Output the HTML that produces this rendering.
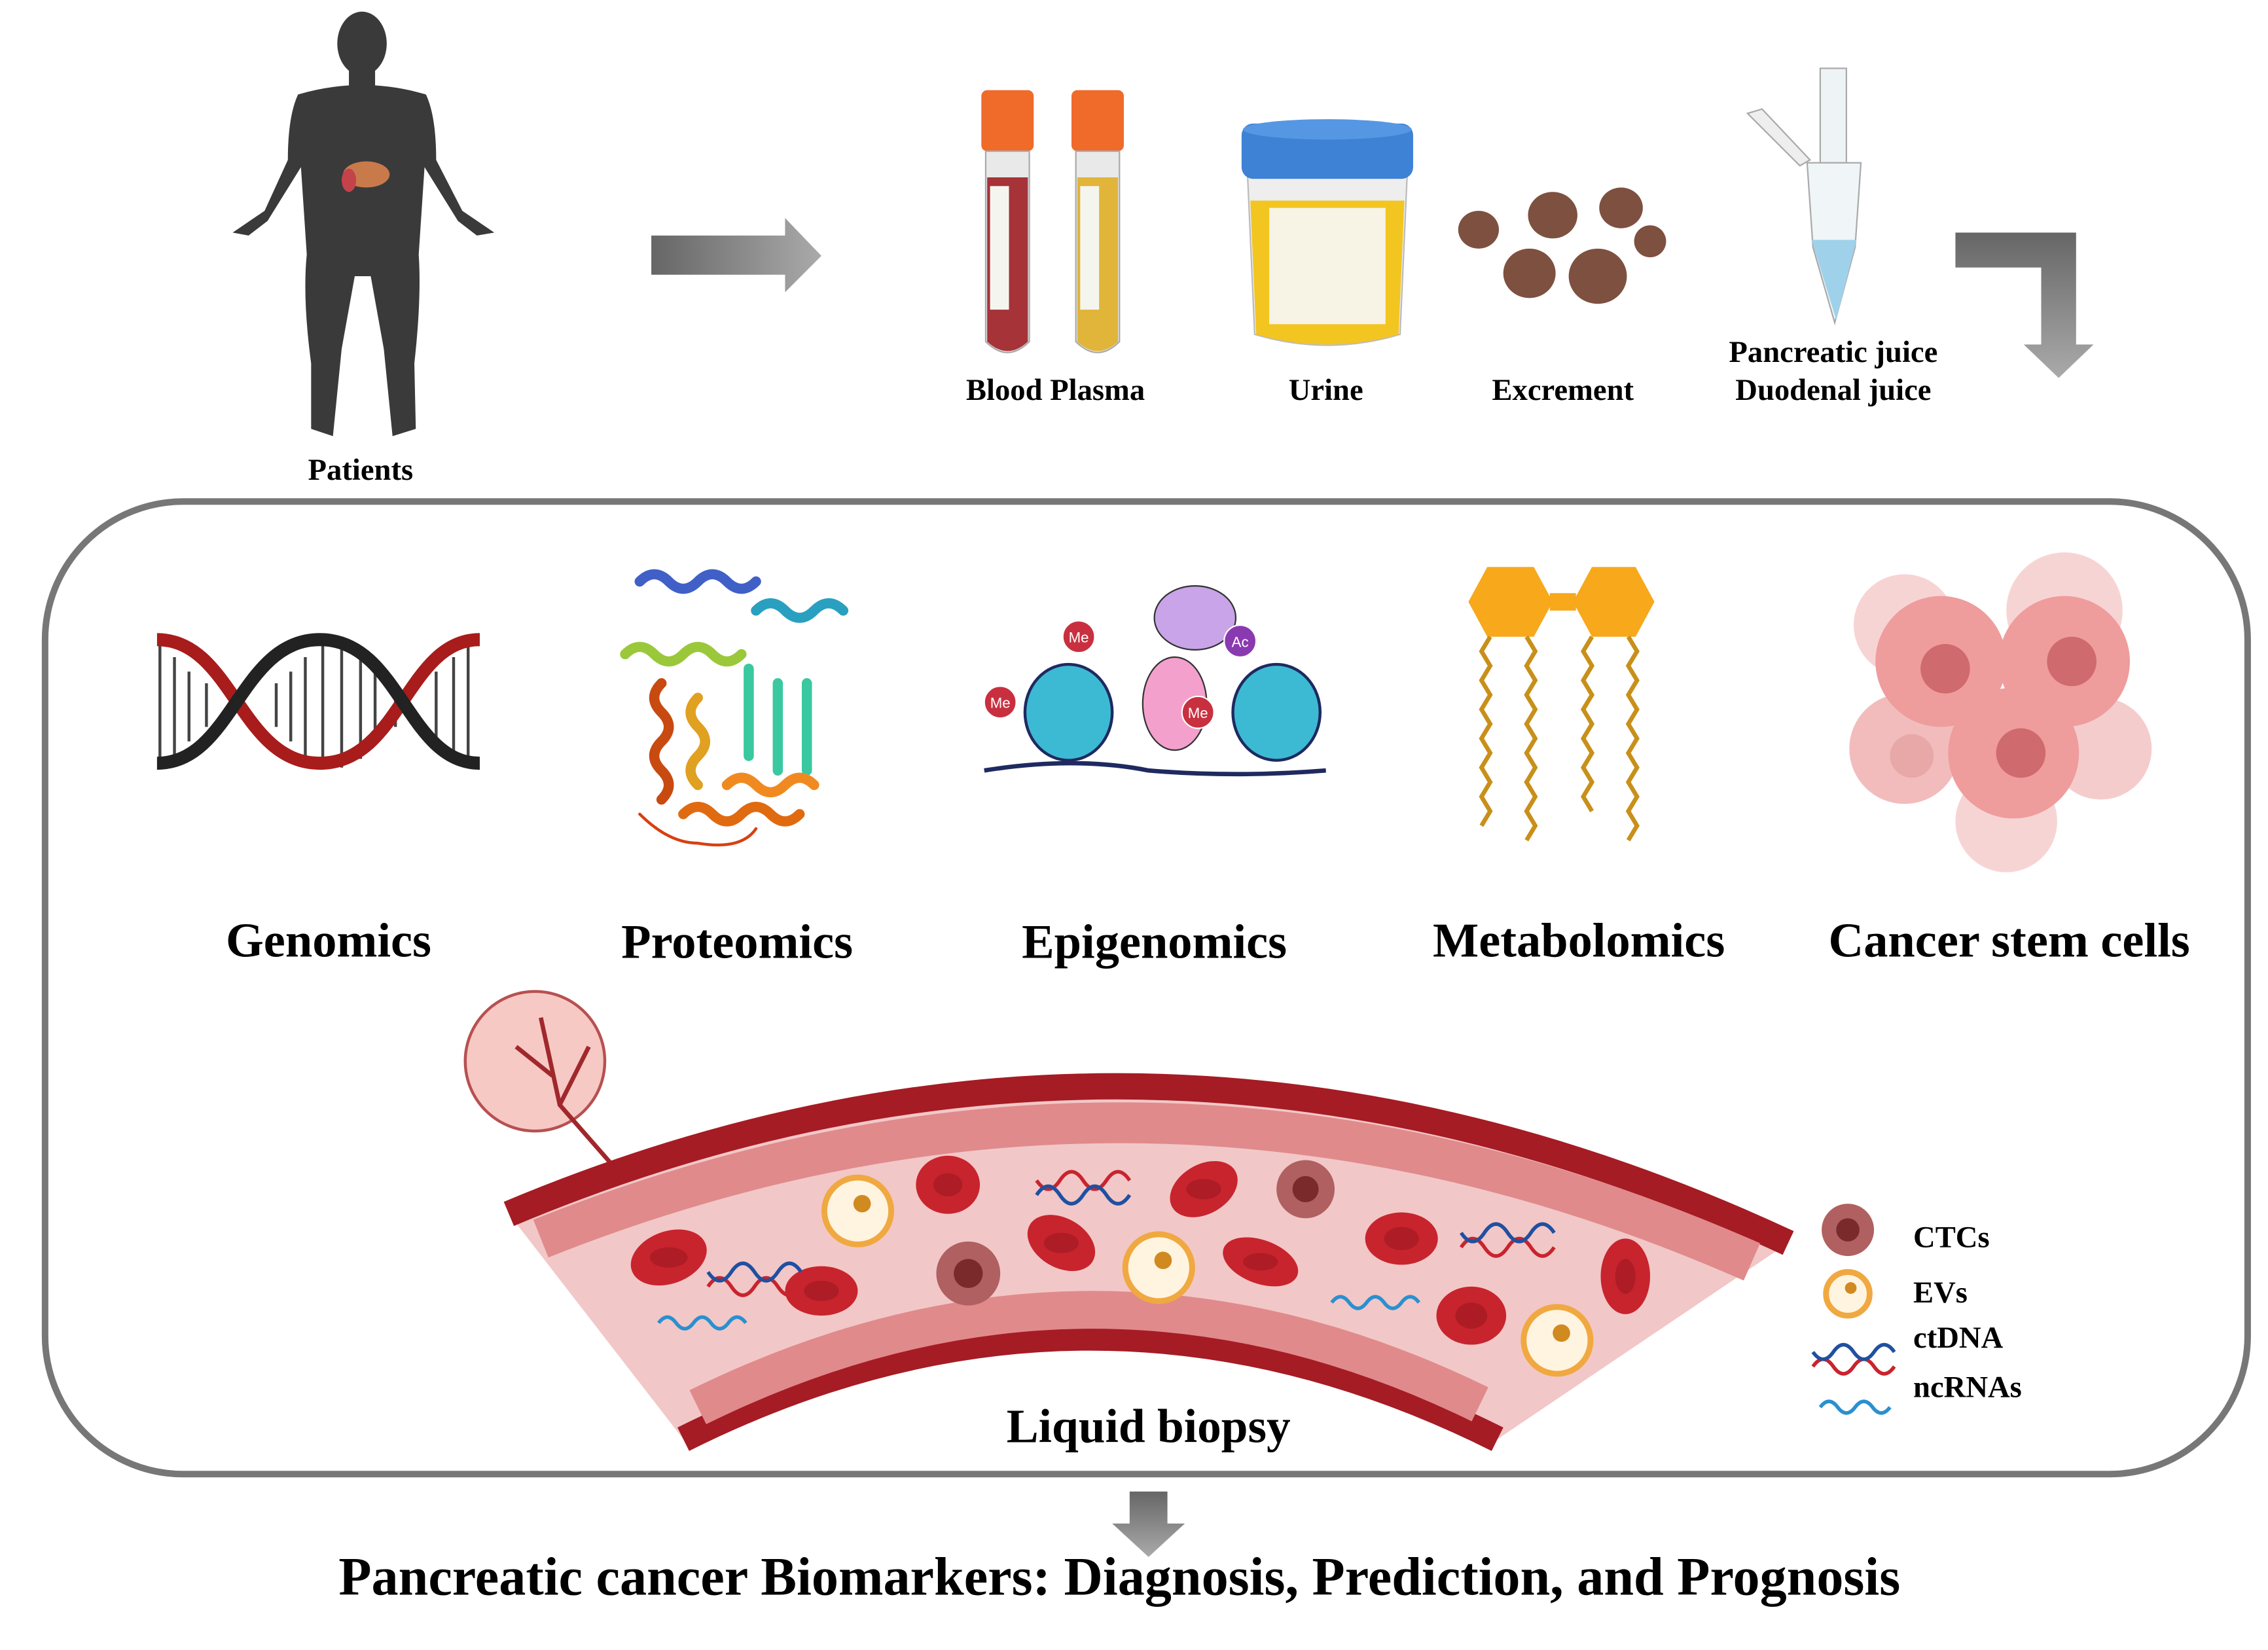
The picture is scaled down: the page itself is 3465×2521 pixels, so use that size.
<!DOCTYPE html>
<html><head><meta charset="utf-8"><style>
html,body{margin:0;padding:0;background:#fff;}
svg{display:block;}
text{font-family:"Liberation Serif",serif;font-weight:bold;fill:#000;}
</style></head><body>
<svg width="3465" height="2521" viewBox="0 0 1560 1135" preserveAspectRatio="none" xmlns="http://www.w3.org/2000/svg">
<defs>
<linearGradient id="ga" x1="0" x2="1"><stop offset="0" stop-color="#666"/><stop offset="1" stop-color="#aaa"/></linearGradient>
<linearGradient id="gb" x1="0" x2="0" y1="0" y2="1"><stop offset="0" stop-color="#666"/><stop offset="1" stop-color="#aaa"/></linearGradient>
</defs>
<!-- human -->
<g fill="#3a3a3a">
<ellipse cx="249" cy="30" rx="17" ry="22"/>
<rect x="240" y="45" width="18" height="15"/>
<path d="M205,65 Q249,52 293,65 Q300,80 300,110 L318,145 L340,160 L328,162 L315,152 L292,115 L288,175 Q290,205 285,250 L286,295 L270,300 L264,240 L255,190 L244,190 L235,240 L229,300 L214,295 L214,250 Q208,205 211,175 L207,115 L184,152 L171,162 L160,160 L182,145 L198,110 Q198,80 205,65Z"/>
</g>
<ellipse cx="252" cy="120" rx="16" ry="9" fill="#c97a4a"/>
<ellipse cx="240" cy="124" rx="5" ry="8" fill="#c4424a"/>
<text x="248" y="330" font-size="21" text-anchor="middle">Patients</text>
<!-- arrow 1 -->
<path d="M448,162 L540,162 L540,150 L565,176 L540,201 L540,189 L448,189Z" fill="url(#ga)"/>
<!-- tubes -->
<rect x="675" y="62" width="36" height="42" rx="4" fill="#f06a2a"/>
<rect x="737" y="62" width="36" height="42" rx="4" fill="#f06a2a"/>
<path d="M678,104 L708,104 L708,235 Q693,250 678,235Z" fill="#e9e9e9" stroke="#aaa"/>
<path d="M740,104 L770,104 L770,235 Q755,250 740,235Z" fill="#e9e9e9" stroke="#aaa"/>
<path d="M679,122 L707,122 L707,235 Q693,248 679,235Z" fill="#a53338"/>
<path d="M741,122 L769,122 L769,235 Q755,248 741,235Z" fill="#e1b43a"/>
<rect x="681" y="128" width="13" height="85" fill="#f5f5f0"/>
<rect x="743" y="128" width="13" height="85" fill="#f5f5f0"/>
<!-- urine -->
<path d="M858,118 L968,118 L963,230 Q913,245 863,230Z" fill="#eee" stroke="#bbb"/>
<path d="M860,138 L966,138 L962,230 Q913,244 864,230Z" fill="#f3c520"/>
<rect x="873" y="143" width="80" height="80" fill="#f7f4e6"/>
<rect x="854" y="85" width="118" height="38" rx="8" fill="#3d82d4"/>
<ellipse cx="913" cy="89" rx="58" ry="7" fill="#5597e3"/>
<!-- excrement -->
<g fill="#7e5040">
<ellipse cx="1017" cy="158" rx="14" ry="13"/><ellipse cx="1068" cy="148" rx="17" ry="16"/>
<ellipse cx="1115" cy="143" rx="15" ry="14"/><ellipse cx="1135" cy="166" rx="11" ry="11"/>
<ellipse cx="1052" cy="188" rx="18" ry="17"/><ellipse cx="1099" cy="190" rx="20" ry="19"/>
</g>
<!-- pancreatic tube -->
<rect x="1252" y="47" width="18" height="65" fill="#eef3f5" stroke="#aaa"/>
<path d="M1243,112 L1280,112 L1276,170 L1262,222 L1247,170Z" fill="#f0f5f7" stroke="#aaa"/>
<path d="M1246,165 L1277,165 L1263,220Z" fill="#9fd2ea"/>
<path d="M1202,78 L1212,75 L1245,110 L1238,114Z" fill="#eee" stroke="#aaa"/>
<text x="1261" y="249" font-size="21" text-anchor="middle">Pancreatic juice</text>
<text x="1261" y="275" font-size="21" text-anchor="middle">Duodenal juice</text>
<text x="726" y="275" font-size="21" text-anchor="middle">Blood  Plasma</text>
<text x="912" y="275" font-size="21" text-anchor="middle">Urine</text>
<text x="1075" y="275" font-size="21" text-anchor="middle">Excrement</text>
<!-- bent arrow -->
<path d="M1345,160 L1428,160 L1428,237 L1440,237 L1416,260 L1392,237 L1404,237 L1404,184 L1345,184Z" fill="url(#gb)"/>
<!-- box -->
<rect x="31" y="345" width="1515" height="669" rx="95" fill="none" stroke="#777" stroke-width="4.5"/>
<!-- genomics DNA -->
<g stroke-width="2">
<path d="M110,440 L110,528 M120,452 L120,522 M130,462 L130,510 M142,470 L142,500 M190,470 L190,500 M200,462 L200,510 M210,452 L210,522 M222,442 L222,528 M235,442 L235,528 M248,452 L248,522 M258,462 L258,510 M272,470 L272,500 M300,462 L300,510 M312,452 L312,522 M322,442 L322,528" stroke="#444"/>
</g>
<path d="M108,440 C160,440 165,525 220,525 C275,525 280,440 330,440" fill="none" stroke="#a81c1c" stroke-width="9"/>
<path d="M108,525 C160,525 165,440 220,440 C275,440 280,525 330,525" fill="none" stroke="#222" stroke-width="9"/>
<!-- proteomics -->
<g fill="none" stroke-width="7" stroke-linecap="round">
<path d="M440,400 q10,-10 20,0 q10,10 20,0 q10,-10 20,0 q10,10 20,0" stroke="#4060c8"/>
<path d="M430,450 q10,-10 20,0 q10,10 20,0 q10,-10 20,0 q10,10 20,0" stroke="#9ac83a"/>
<path d="M520,420 q10,-10 20,0 q10,10 20,0 q10,-10 20,0" stroke="#2aa0c0"/>
<path d="M515,460 l0,60 M535,470 l0,60 M555,470 l0,60" stroke="#3ac8a0"/>
<path d="M480,480 q-10,10 0,20 q10,10 0,20 q-10,10 0,20" stroke="#e0a020"/>
<path d="M455,470 q-10,10 0,20 q10,10 0,20 q-10,10 0,20 q10,10 0,20" stroke="#c84a10"/>
<path d="M470,560 q10,-10 20,0 q10,10 20,0 q10,-10 20,0 q10,10 20,0" stroke="#e06a10"/>
<path d="M500,540 q10,-10 20,0 q10,10 20,0 q10,-10 20,0" stroke="#f08a20"/>
<path d="M440,560 q20,20 40,20 q30,5 40,-10" stroke="#d84010" stroke-width="2"/>
</g>
<!-- epigenomics -->
<path d="M677,530 Q740,520 790,530 Q850,535 912,530" fill="none" stroke="#1e2a60" stroke-width="3"/>
<ellipse cx="822" cy="425" rx="28" ry="22" fill="#c9a4e8" stroke="#333"/>
<ellipse cx="808" cy="484" rx="22" ry="32" fill="#f4a0cc" stroke="#333"/>
<g fill="#3dbad3" stroke="#1e2a60" stroke-width="2">
<ellipse cx="735" cy="490" rx="30" ry="33"/><ellipse cx="878" cy="490" rx="30" ry="33"/>
</g>
<g fill="#c83040" stroke="#fff"><circle cx="742" cy="438" r="11"/><circle cx="688" cy="483" r="11"/><circle cx="824" cy="490" r="11"/></g>
<circle cx="853" cy="441" r="11" fill="#8a3ab0" stroke="#fff"/>
<g font-size="10"><text x="742" y="442" text-anchor="middle" style="fill:#fff;font-weight:normal;font-family:'Liberation Sans',sans-serif">Me</text><text x="688" y="487" text-anchor="middle" style="fill:#fff;font-weight:normal;font-family:'Liberation Sans',sans-serif">Me</text><text x="824" y="494" text-anchor="middle" style="fill:#fff;font-weight:normal;font-family:'Liberation Sans',sans-serif">Me</text><text x="853" y="445" text-anchor="middle" style="fill:#fff;font-weight:normal;font-family:'Liberation Sans',sans-serif">Ac</text></g>
<!-- metabolomics -->
<path d="M1010,414 L1023,390 L1055,390 L1068,414 L1055,438 L1023,438Z" fill="#f7a81b"/>
<path d="M1082,414 L1095,390 L1125,390 L1138,414 L1125,438 L1095,438Z" fill="#f7a81b"/>
<rect x="1066" y="408" width="18" height="12" fill="#f7a81b"/>
<g fill="none" stroke="#c8901a" stroke-width="3">
<path d="M1025,438 l-6,10 l6,10 l-6,10 l6,10 l-6,10 l6,10 l-6,10 l6,10 l-6,10 l6,10 l-6,10 l6,10 l-6,10"/>
<path d="M1050,438 l6,10 l-6,10 l6,10 l-6,10 l6,10 l-6,10 l6,10 l-6,10 l6,10 l-6,10 l6,10 l-6,10 l6,10 l-6,10"/>
<path d="M1095,438 l-6,10 l6,10 l-6,10 l6,10 l-6,10 l6,10 l-6,10 l6,10 l-6,10 l6,10 l-6,10 l6,10"/>
<path d="M1120,438 l6,10 l-6,10 l6,10 l-6,10 l6,10 l-6,10 l6,10 l-6,10 l6,10 l-6,10 l6,10 l-6,10 l6,10 l-6,10"/>
</g>
<!-- cancer stem cells -->
<g>
<circle cx="1310" cy="430" r="35" fill="#f7d4d4"/><circle cx="1420" cy="420" r="40" fill="#f7d4d4"/>
<circle cx="1380" cy="565" r="35" fill="#f7d4d4"/><circle cx="1445" cy="515" r="35" fill="#f5cccc"/>
<circle cx="1310" cy="515" r="38" fill="#f2bcbc"/>
<circle cx="1335" cy="455" r="45" fill="#ef9c9c"/><circle cx="1420" cy="455" r="45" fill="#ef9c9c"/>
<circle cx="1385" cy="518" r="45" fill="#ef9c9c"/>
<circle cx="1338" cy="460" r="17" fill="#cf6a6e"/><circle cx="1425" cy="455" r="17" fill="#cf6a6e"/>
<circle cx="1390" cy="518" r="17" fill="#cf6a6e"/><circle cx="1315" cy="520" r="15" fill="#e8a8a8"/>
</g>
<g font-size="33.5">
<text x="226" y="658" text-anchor="middle">Genomics</text>
<text x="507" y="659" text-anchor="middle">Proteomics</text>
<text x="794" y="659" text-anchor="middle">Epigenomics</text>
<text x="1086" y="658" text-anchor="middle">Metabolomics</text>
<text x="1382" y="658" text-anchor="middle">Cancer stem cells</text>
</g>
<!-- tumor -->
<circle cx="368" cy="730" r="48" fill="#f6c9c4" stroke="#b85050" stroke-width="2"/>
<path d="M372,700 L385,760 L420,800 M380,740 L355,720 M385,760 L405,720" fill="none" stroke="#a0282c" stroke-width="3"/>
<!-- vessel -->
<path d="M350,835 Q790,650 1230,855 L1030,990 Q750,850 470,990Z" fill="#f2c7c7"/>
<path d="M350,835 Q790,650 1230,855" fill="none" stroke="#a51c24" stroke-width="18"/>
<path d="M372,852 Q790,685 1205,868" fill="none" stroke="#e08a8c" stroke-width="28"/>
<path d="M470,990 Q750,850 1030,990" fill="none" stroke="#a51c24" stroke-width="18"/>
<path d="M480,968 Q750,835 1018,966" fill="none" stroke="#e08a8c" stroke-width="26"/>
<!-- rbcs -->
<g fill="#c8242e">
<ellipse cx="460" cy="865" rx="27" ry="18" transform="rotate(-20 460 865)"/>
<ellipse cx="565" cy="888" rx="25" ry="17"/>
<ellipse cx="652" cy="815" rx="22" ry="20"/>
<ellipse cx="730" cy="855" rx="25" ry="17" transform="rotate(30 730 855)"/>
<ellipse cx="828" cy="818" rx="25" ry="17" transform="rotate(-30 828 818)"/>
<ellipse cx="867" cy="868" rx="27" ry="15" transform="rotate(20 867 868)"/>
<ellipse cx="964" cy="852" rx="25" ry="18"/>
<ellipse cx="1012" cy="905" rx="24" ry="20"/>
<ellipse cx="1118" cy="878" rx="17" ry="26"/>
</g>
<g fill="#9c1820" opacity="0.6">
<ellipse cx="460" cy="865" rx="13" ry="7"/><ellipse cx="565" cy="888" rx="12" ry="7"/><ellipse cx="652" cy="815" rx="10" ry="8"/><ellipse cx="730" cy="855" rx="12" ry="7"/><ellipse cx="828" cy="818" rx="12" ry="7"/><ellipse cx="867" cy="868" rx="12" ry="6"/><ellipse cx="964" cy="852" rx="12" ry="8"/><ellipse cx="1012" cy="905" rx="11" ry="9"/><ellipse cx="1118" cy="878" rx="7" ry="12"/>
</g>
<!-- CTCs -->
<g fill="#b06060"><circle cx="666" cy="876" r="22"/><circle cx="898" cy="818" r="20"/><circle cx="1271" cy="846" r="18"/></g>
<g fill="#7a2a2a"><circle cx="666" cy="876" r="10"/><circle cx="898" cy="818" r="9"/><circle cx="1271" cy="846" r="8"/></g>
<!-- EVs -->
<g fill="#fff4e0" stroke="#f0a840" stroke-width="4"><circle cx="590" cy="833" r="23"/><circle cx="797" cy="872" r="23"/><circle cx="1071" cy="922" r="23"/><circle cx="1271" cy="890" r="15"/></g>
<g fill="#d08a20"><circle cx="593" cy="828" r="6"/><circle cx="800" cy="867" r="6"/><circle cx="1074" cy="917" r="6"/><circle cx="1273" cy="886" r="4"/></g>
<!-- ctDNA -->
<g fill="none" stroke-width="2.5">
<path d="M487,885 q8,-12 16,0 t16,0 t16,0 t16,0" stroke="#c8242e"/>
<path d="M487,875 q8,12 16,0 t16,0 t16,0 t16,0" stroke="#2050a0"/>
<path d="M713,812 q8,12 16,0 t16,0 t16,0 t16,0" stroke="#c8242e"/>
<path d="M713,822 q8,-12 16,0 t16,0 t16,0 t16,0" stroke="#2050a0"/>
<path d="M1005,858 q8,-12 16,0 t16,0 t16,0 t16,0" stroke="#c8242e"/>
<path d="M1005,848 q8,12 16,0 t16,0 t16,0 t16,0" stroke="#2050a0"/>
<path d="M1247,940 q7,-10 14,0 t14,0 t14,0 t14,0" stroke="#c8242e"/>
<path d="M1247,930 q7,10 14,0 t14,0 t14,0 t14,0" stroke="#2050a0"/>
<!-- ncRNA -->
<path d="M453,910 q6,-8 12,0 t12,0 t12,0 t12,0 t12,0" stroke="#2a90d0"/>
<path d="M916,896 q6,-8 12,0 t12,0 t12,0 t12,0 t12,0" stroke="#2a90d0"/>
<path d="M1252,968 q6,-8 12,0 t12,0 t12,0 t12,0" stroke="#2a90d0"/>
</g>
<g font-size="21">
<text x="1316" y="858">CTCs</text><text x="1316" y="896">EVs</text><text x="1316" y="927">ctDNA</text><text x="1316" y="961">ncRNAs</text>
</g>
<text x="790" y="992" font-size="33" text-anchor="middle">Liquid biopsy</text>
<!-- down arrow -->
<path d="M777,1026 L803,1026 L803,1048 L815,1048 L790,1071 L765,1048 L777,1048Z" fill="url(#gb)"/>
<text x="770" y="1097" font-size="37" text-anchor="middle">Pancreatic cancer Biomarkers: Diagnosis, Prediction, and Prognosis</text>
</svg>
</body></html>
